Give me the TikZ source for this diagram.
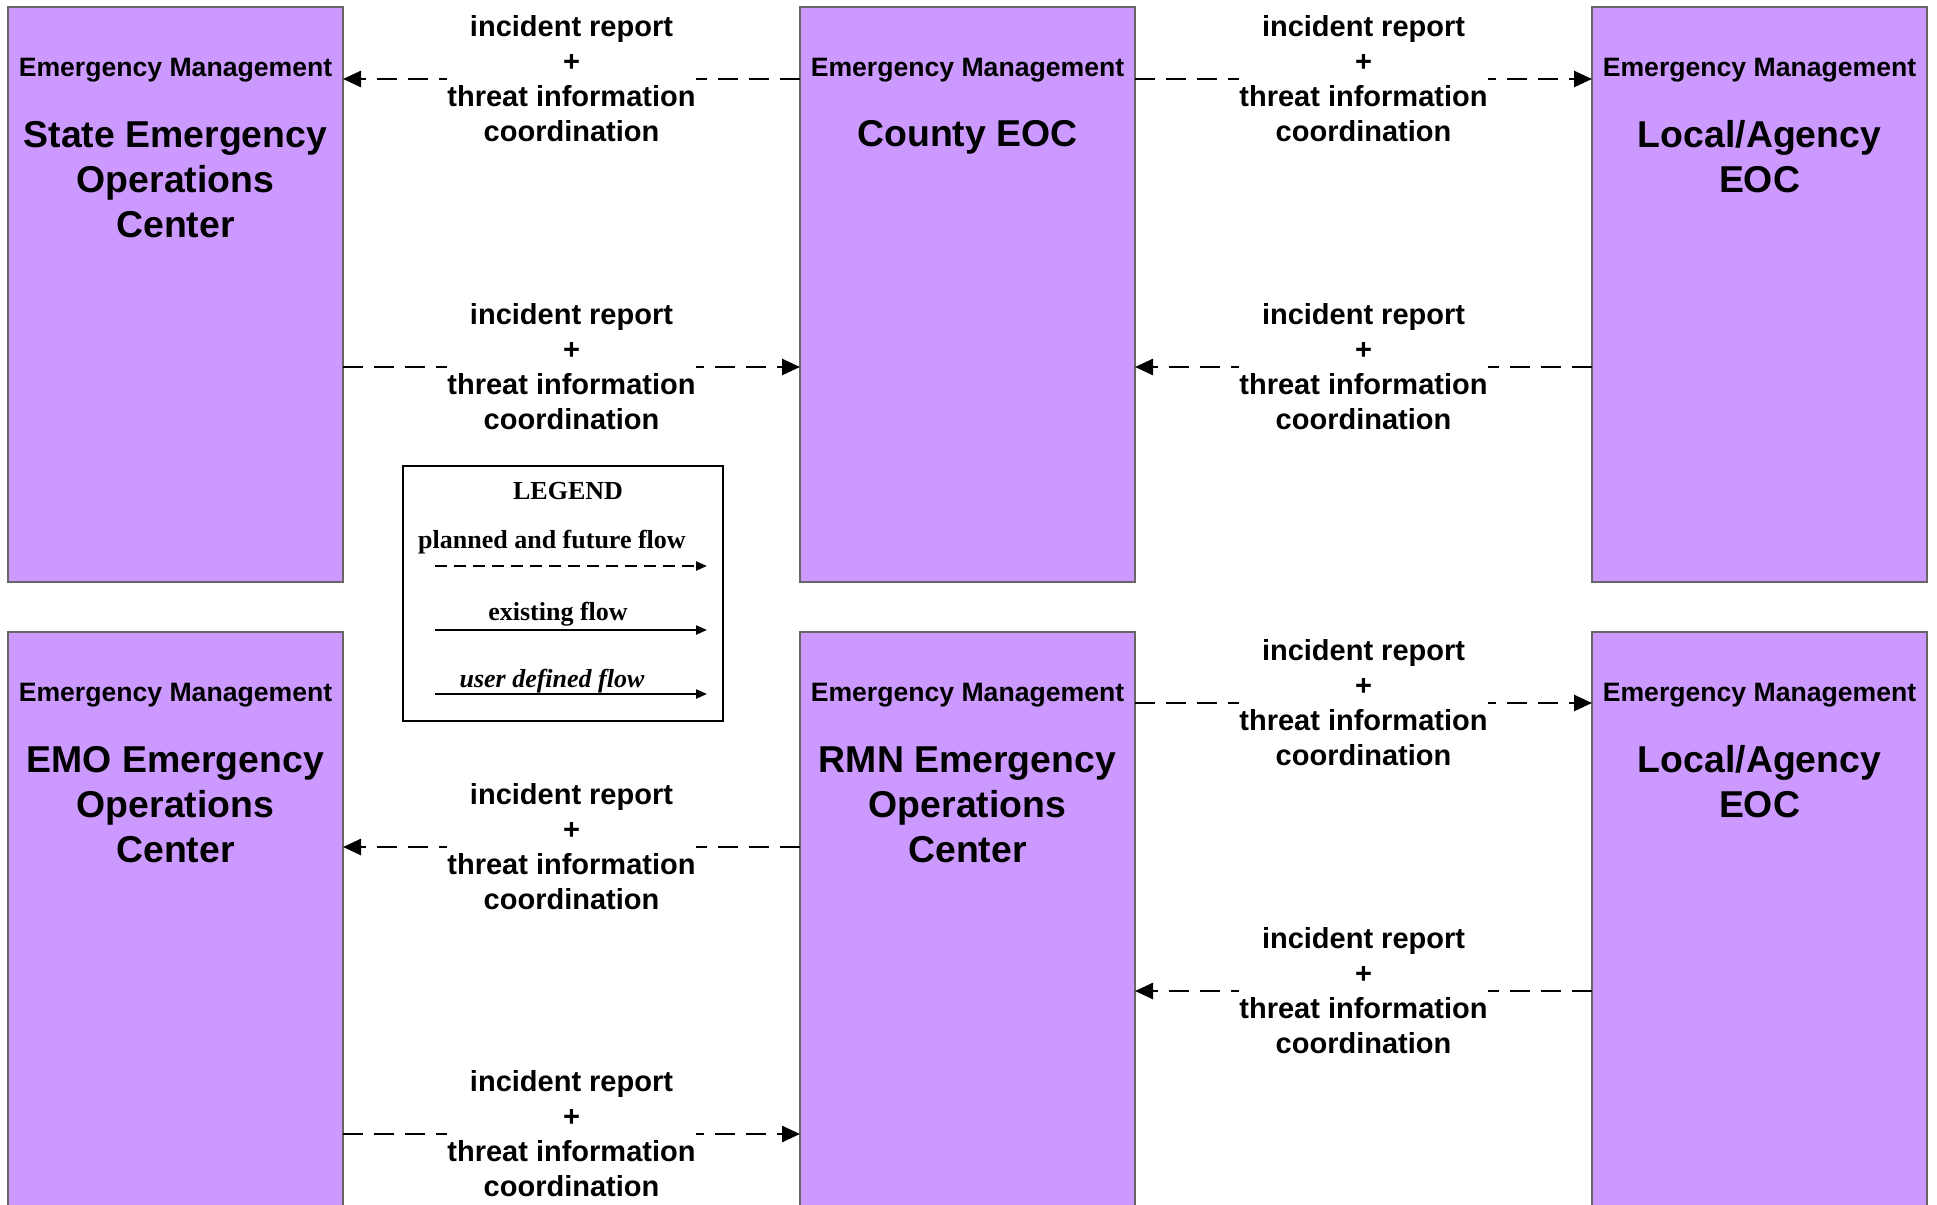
\documentclass[tikz,border=0pt]{standalone}
\usepackage{fontspec}
\setmainfont{Liberation Sans}
\newfontfamily\legfont{Liberation Serif}
\usetikzlibrary{arrows.meta}
\definecolor{boxfill}{HTML}{CC99FF}
\definecolor{boxline}{HTML}{666666}
\begin{document}
\begin{tikzpicture}[x=0.5pt,y=-0.5pt,
  box/.style={draw=boxline, line width=0.6pt, fill=boxfill, rectangle, anchor=north west,
    minimum width=167.5pt, inner sep=0pt, outer sep=0pt},
  topbox/.style={box, minimum height=287.5pt},
  botbox/.style={box, minimum height=309pt},
  hdr/.style={anchor=base, inner sep=0pt, font=\fontsize{13.3}{16}\selectfont\bfseries},
  ttl/.style={anchor=base, align=center, inner sep=0pt, font=\fontsize{18.7}{22.5}\selectfont\bfseries},
  flow/.style={line width=1.3pt, dash pattern=on 10pt off 5.5pt, -{Triangle[length=9pt,width=8pt]}},
  lab/.style={fill=white, align=center, inner sep=0pt, solid, font=\fontsize{14.5}{17.5}\selectfont\bfseries},
  legbox/.style={draw, line width=1.4pt, anchor=north west, minimum width=160pt, minimum height=127.5pt, inner sep=0pt, outer sep=0pt},
  legt/.style={inner sep=0pt, font=\legfont\fontsize{13}{15}\selectfont\bfseries},
  legsolid/.style={line width=1.1pt, -{Triangle[length=5.5pt,width=4.5pt]}},
  legdash/.style={legsolid, dash pattern=on 6pt off 3.5pt}
]
\useasboundingbox (0,0) rectangle (1937,1204);
\clip (0,0) rectangle (1937,1204);

% boxes
\node[topbox] (state)  at (8,7) {};
\node[topbox] (county) at (800,7) {};
\node[topbox] (localA) at (1592,7) {};
\node[botbox] (emo)    at (8,632) {};
\node[botbox] (rmn)    at (800,632) {};
\node[botbox] (localB) at (1592,632) {};

% headers
\foreach \b in {state,county,localA,emo,rmn,localB}
  \node[hdr] (\b H) at ([yshift=-34.5pt]\b.north) {Emergency Management};

% titles (anchor base = baseline of the last line)
\node[ttl] (stateT)  at ([yshift=-115pt]state.north)  {State Emergency\\Operations\\Center};
\node[ttl] (countyT) at ([yshift=-70pt]county.north)  {County EOC};
\node[ttl] (localAT) at ([yshift=-92.5pt]localA.north) {Local/Agency\\EOC};
\node[ttl] (emoT)    at ([yshift=-115pt]emo.north)    {EMO Emergency\\Operations\\Center};
\node[ttl] (rmnT)    at ([yshift=-115pt]rmn.north)    {RMN Emergency\\Operations\\Center};
\node[ttl] (localBT) at ([yshift=-92.5pt]localB.north) {Local/Agency\\EOC};

% flows top
\draw[flow] ([yshift=-36pt]county.north west) -- node[lab] (l1) {incident report\\+\\threat information\\coordination} ([yshift=-36pt]state.north east);
\draw[flow] ([yshift=-36pt]county.north east) -- node[lab] (l2) {incident report\\+\\threat information\\coordination} ([yshift=-36pt]localA.north west);
\draw[flow] ([yshift=-180pt]state.north east) -- node[lab] (l3) {incident report\\+\\threat information\\coordination} ([yshift=-180pt]county.north west);
\draw[flow] ([yshift=-180pt]localA.north west) -- node[lab] (l4) {incident report\\+\\threat information\\coordination} ([yshift=-180pt]county.north east);

% flows bottom
\draw[flow] ([yshift=-35.5pt]rmn.north east) -- node[lab] (l5) {incident report\\+\\threat information\\coordination} ([yshift=-35.5pt]localB.north west);
\draw[flow] ([yshift=-107.5pt]rmn.north west) -- node[lab] (l6) {incident report\\+\\threat information\\coordination} ([yshift=-107.5pt]emo.north east);
\draw[flow] ([yshift=-179.5pt]localB.north west) -- node[lab] (l7) {incident report\\+\\threat information\\coordination} ([yshift=-179.5pt]rmn.north east);
\draw[flow] ([yshift=-251pt]emo.north east) -- node[lab] (l8) {incident report\\+\\threat information\\coordination} ([yshift=-251pt]rmn.north west);

% legend
\node[legbox] (legend) at (403,466) {};
\node[legt] (legT) at (568,491) {LEGEND};
\node[legt] (legP) at (552,542) {planned and future flow};
\node[legt] (legE) at (558,614) {existing flow};
\node[legt, font=\legfont\fontsize{13}{15}\selectfont\bfseries\itshape] (legU) at (552,681) {user defined flow};
\coordinate (pa) at (435,566); \coordinate (pb) at (707,566);
\coordinate (ea) at (435,630); \coordinate (eb) at (707,630);
\coordinate (ua) at (435,694); \coordinate (ub) at (707,694);
\draw[legdash] (pa) -- (pb);
\draw[legsolid] (ea) -- (eb);
\draw[legsolid] (ua) -- (ub);
\end{tikzpicture}
\end{document}
